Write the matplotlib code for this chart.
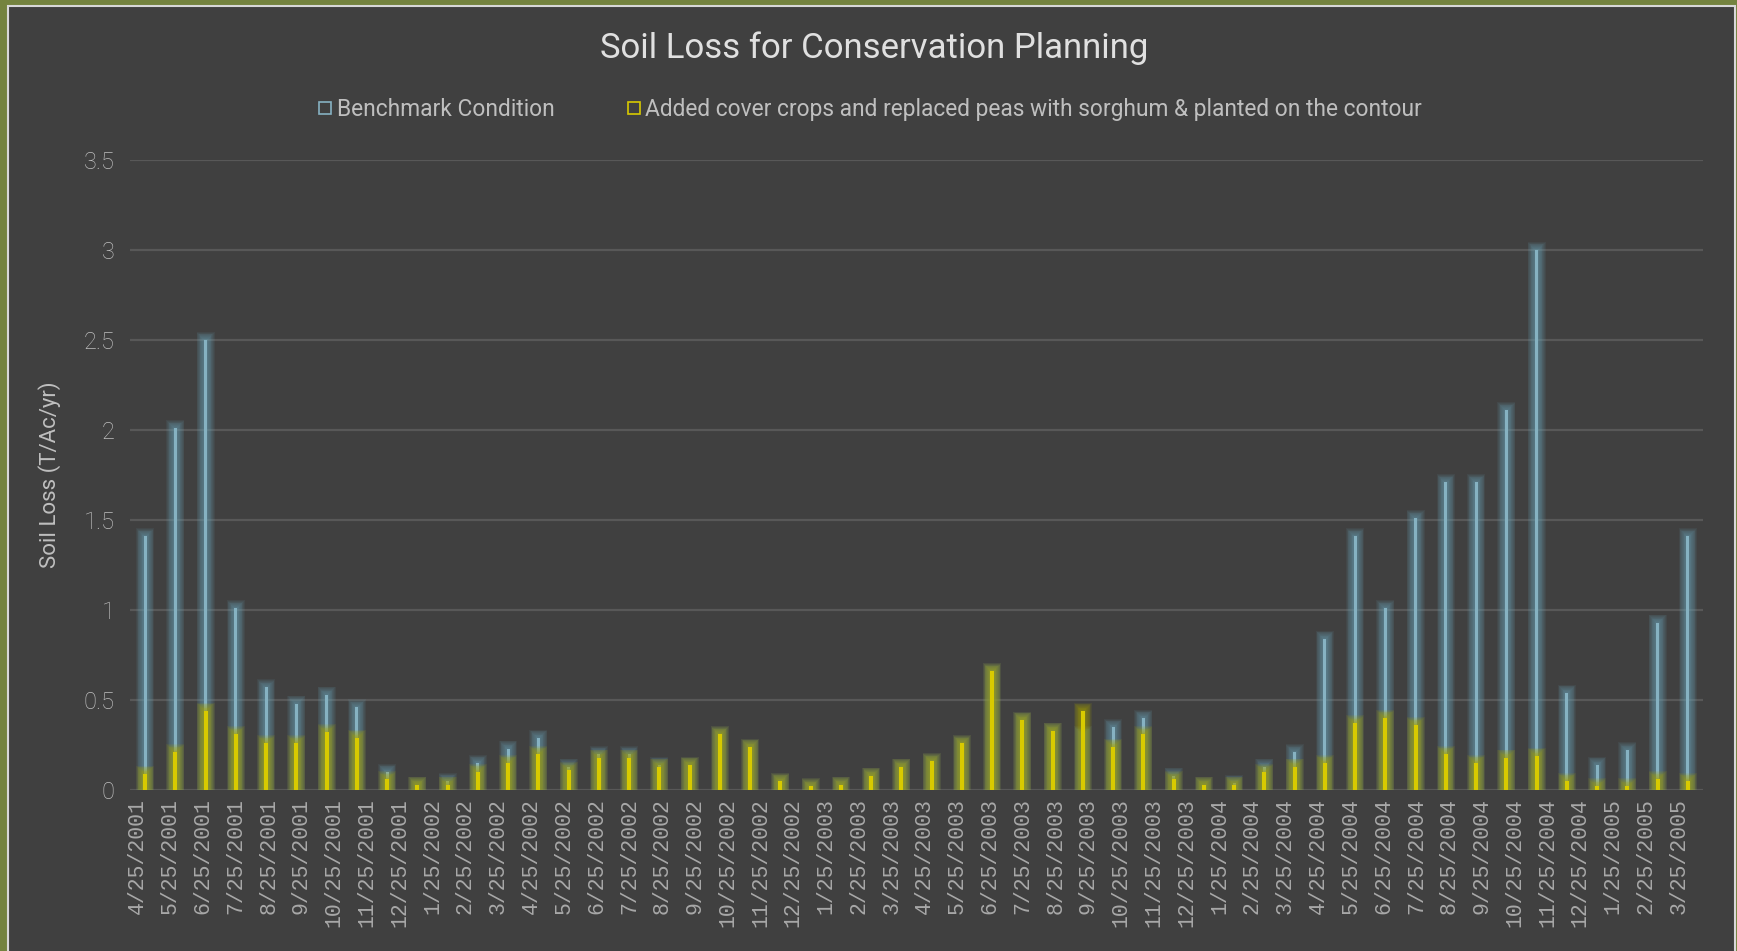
import numpy as np
import matplotlib
matplotlib.use("Agg")
import matplotlib.pyplot as plt
from matplotlib.patches import Rectangle
from matplotlib.lines import Line2D

# data (52 bars, 48 month labels spread across them)
benchmark = [1.41, 2.01, 2.5, 1.01, 0.57, 0.48, 0.53, 0.46, 0.1, 0.03,
             0.05, 0.15, 0.23, 0.29, 0.13, 0.2, 0.2, 0.14, 0.14, 0.31,
             0.24, 0.05, 0.02, 0.03, 0.08, 0.13, 0.16, 0.26, 0.66, 0.39,
             0.33, 0.31, 0.35, 0.4, 0.08, 0.03, 0.04, 0.13, 0.21, 0.84,
             1.41, 1.01, 1.51, 1.71, 1.71, 2.11, 3.0, 0.54, 0.14, 0.22,
             0.93, 1.41]
cover = [0.09, 0.21, 0.44, 0.31, 0.26, 0.26, 0.32, 0.29, 0.06, 0.03,
         0.03, 0.1, 0.15, 0.2, 0.11, 0.18, 0.18, 0.13, 0.14, 0.31,
         0.24, 0.05, 0.02, 0.03, 0.08, 0.13, 0.16, 0.26, 0.66, 0.39,
         0.33, 0.44, 0.24, 0.31, 0.06, 0.03, 0.03, 0.1, 0.13, 0.15,
         0.37, 0.4, 0.36, 0.2, 0.15, 0.18, 0.19, 0.05, 0.02, 0.02,
         0.06, 0.05]
month_labels = ["4/25/2001", "5/25/2001", "6/25/2001", "7/25/2001", "8/25/2001",
                "9/25/2001", "10/25/2001", "11/25/2001", "12/25/2001", "1/25/2002",
                "2/25/2002", "3/25/2002", "4/25/2002", "5/25/2002", "6/25/2002",
                "7/25/2002", "8/25/2002", "9/25/2002", "10/25/2002", "11/25/2002",
                "12/25/2002", "1/25/2003", "2/25/2003", "3/25/2003", "4/25/2003",
                "5/25/2003", "6/25/2003", "7/25/2003", "8/25/2003", "9/25/2003",
                "10/25/2003", "11/25/2003", "12/25/2003", "1/25/2004", "2/25/2004",
                "3/25/2004", "4/25/2004", "5/25/2004", "6/25/2004", "7/25/2004",
                "8/25/2004", "9/25/2004", "10/25/2004", "11/25/2004", "12/25/2004",
                "1/25/2005", "2/25/2005", "3/25/2005"]
series_names = ["Benchmark Condition",
                "Added cover crops and replaced peas with sorghum & planted on the contour"]

bg = "#404040"
blue = "#86b2c2"
yellow = "#d8ca00"
txt = "#bfbfbf"

fig = plt.figure(figsize=(17.37, 9.51), dpi=100)
fig.patch.set_facecolor("#74833f")
fig.patches.append(Rectangle((8 / 1737, -0.01), 1727 / 1737, 1 - 6 / 951 + 0.01,
                             transform=fig.transFigure, facecolor=bg,
                             edgecolor="#d8d8d8", linewidth=1.5, zorder=-10))

ax = fig.add_axes([0.0748, 0.1693, 0.9056, 0.6624])
ax.set_zorder(2)
ax.set_facecolor(bg)
for s in ax.spines.values():
    s.set_visible(False)

x = np.arange(len(benchmark))
b = np.array(benchmark)
c = np.array(cover)

# soft glow: many faint layers, wider ones reach a bit higher
def glow(vals, color, base_alpha, z):
    for k in range(10):
        w = 0.13 + 0.052 * k
        pad = 0.004 + 0.0045 * k
        ax.bar(x, vals + pad, width=w, color=color, alpha=base_alpha,
               linewidth=0, zorder=z)

glow(b, "#6a9fb3", 0.095, 2)
ax.bar(x, b, width=0.1, color=blue, linewidth=0, zorder=3)
glow(c, "#aaa600", 0.1, 4)
ax.bar(x, c, width=0.13, color=yellow, linewidth=0, zorder=5)

ax.set_xlim(-0.5, len(benchmark) - 0.5)
ax.set_ylim(0, 3.5)
ax.set_yticks(np.arange(0, 3.51, 0.5))
ax.set_yticklabels(["0", "0.5", "1", "1.5", "2", "2.5", "3", "3.5"],
                   fontsize=17, color=txt, family=["Roboto", "DejaVu Sans"], fontweight="light")
ax.yaxis.grid(True, color="#585858", linewidth=1.6, zorder=1)
ax.set_axisbelow(True)
ax.tick_params(axis="both", length=0, pad=11)

ax.set_xticks(np.linspace(-0.25, len(benchmark) - 1.3, len(month_labels)))
ax.set_xticklabels(month_labels, rotation=90, fontsize=15.5, color="#a8a8a8",
                   family=["Liberation Mono", "DejaVu Sans Mono"])
ax.tick_params(axis="x", pad=6)

ax.set_ylabel("Soil Loss (T/Ac/yr)", fontsize=16, color=txt,
              family=["Roboto", "DejaVu Sans"], labelpad=16)

fig.text(0.503, 0.949, "Soil Loss for Conservation Planning", ha="center", va="center",
         fontsize=25, color="#e0e0e0", family=["Roboto", "DejaVu Sans"])

handles = [Line2D([], [], marker="s", linestyle="none", markersize=8,
                  markerfacecolor="none", markeredgecolor=blue, markeredgewidth=1.2),
           Line2D([], [], marker="s", linestyle="none", markersize=8,
                  markerfacecolor="none", markeredgecolor=yellow, markeredgewidth=1.2)]
leg = fig.legend(handles, series_names, loc="center", bbox_to_anchor=(0.501, 0.885),
                 ncol=2, frameon=False, handlelength=0.6, handletextpad=0.2,
                 columnspacing=3.2,
                 prop={"family": ["Roboto", "DejaVu Sans"], "size": 16.4})
for t in leg.get_texts():
    t.set_color(txt)

fig.savefig("out.png", dpi=100, facecolor=fig.get_facecolor())
